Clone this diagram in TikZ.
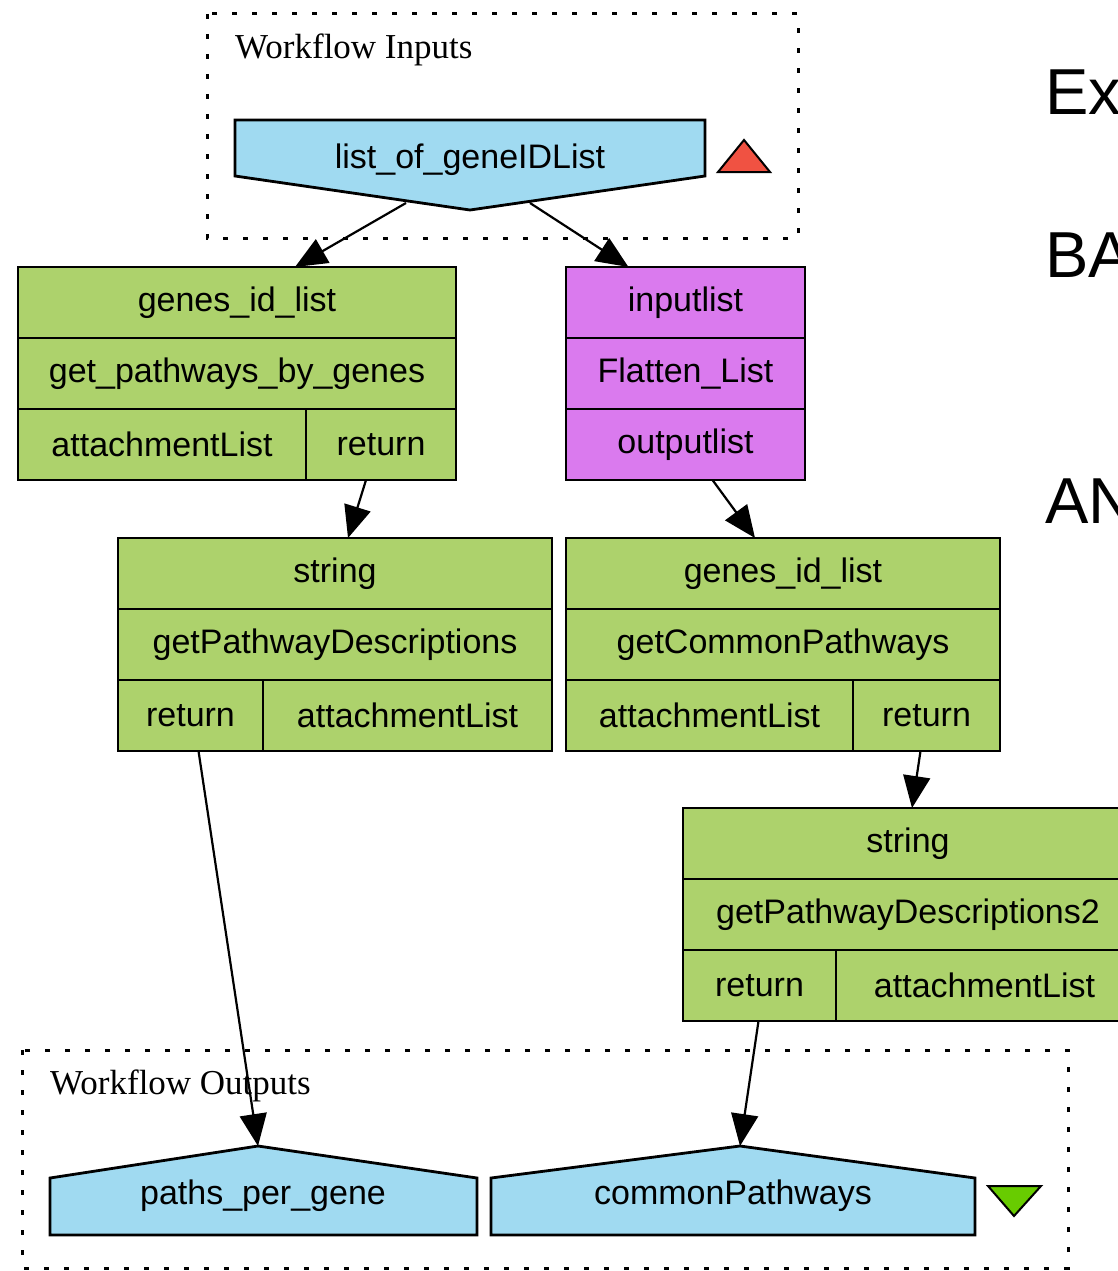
\documentclass[tikz,border=0pt]{standalone}
\usepackage{fontspec}
\setmainfont{Liberation Serif}
\setsansfont{Liberation Sans}
\usepackage{xcolor}
\usetikzlibrary{arrows.meta}
\definecolor{procgreen}{RGB}{173,210,108}
\definecolor{flatpurple}{RGB}{218,122,238}
\definecolor{portblue}{RGB}{160,218,241}
\definecolor{inred}{RGB}{240,82,66}
\definecolor{outgreen}{RGB}{104,204,0}
\newcommand{\lblfont}{\sffamily\fontsize{34}{40}\selectfont}
\newcommand{\grpfont}{\rmfamily\fontsize{35}{40}\selectfont}

\begin{document}
\begin{tikzpicture}[x=1pt, y=-1pt,
    cell/.style={draw=black, line width=2.8pt, inner sep=0pt, outer sep=0pt,
        anchor=north west, minimum height=71pt, font=\lblfont},
    proc/.style={cell, fill=procgreen},
    flat/.style={cell, fill=flatpurple},
    port/.style={draw=black, line width=2.8pt, fill=portblue, line join=miter},
    flow/.style={line width=2.2pt, -{Triangle[length=32pt, width=27pt]}},
    grp/.style={line width=3pt, dash pattern=on 5pt off 15pt},
    grptitle/.style={anchor=base west, inner sep=0pt, font=\grpfont}]
\useasboundingbox (0,0) rectangle (1118,1271);
\clip (0,0) rectangle (1118,1271);

% Workflow inputs
\draw[grp] (207,14) rectangle (798,238);
\node[grptitle] (intitle) at (235,59) {Workflow Inputs};
\draw[port] (235,120) -- (705,120) -- (705,176) -- (470,210) -- (235,176) -- cycle;
\node[font=\lblfont, inner sep=0pt] (geneIDList) at (470,160) {list\_of\_geneIDList};
\coordinate (geneIDList_a) at (406,203);
\coordinate (geneIDList_b) at (530,203);
\draw[line width=2pt, fill=inred] (718,172) -- (770,172) -- (744,140) -- cycle;

% get_pathways_by_genes
\node[proc, minimum width=438pt] (gpg_in) at (18,267) {genes\_id\_list};
\node[proc, minimum width=438pt] (gpg) at (gpg_in.south west) {get\_pathways\_by\_genes};
\node[proc, minimum width=288pt] (gpg_att) at (gpg.south west) {attachmentList};
\node[proc, minimum width=150pt] (gpg_ret) at (gpg_att.north east) {return};

% Flatten_List
\node[flat, minimum width=239pt] (fl_in) at (566,267) {inputlist};
\node[flat, minimum width=239pt] (fl) at (fl_in.south west) {Flatten\_List};
\node[flat, minimum width=239pt] (fl_out) at (fl.south west) {outputlist};

% getPathwayDescriptions
\node[proc, minimum width=434pt] (gpd_in) at (118,538) {string};
\node[proc, minimum width=434pt] (gpd) at (gpd_in.south west) {getPathwayDescriptions};
\node[proc, minimum width=145pt] (gpd_ret) at (gpd.south west) {return};
\node[proc, minimum width=289pt] (gpd_att) at (gpd_ret.north east) {attachmentList};

% getCommonPathways
\node[proc, minimum width=434pt] (gcp_in) at (566,538) {genes\_id\_list};
\node[proc, minimum width=434pt] (gcp) at (gcp_in.south west) {getCommonPathways};
\node[proc, minimum width=287pt] (gcp_att) at (gcp.south west) {attachmentList};
\node[proc, minimum width=147pt] (gcp_ret) at (gcp_att.north east) {return};

% getPathwayDescriptions2
\node[proc, minimum width=450pt] (gpd2_in) at (683,808) {string};
\node[proc, minimum width=450pt] (gpd2) at (gpd2_in.south west) {getPathwayDescriptions2};
\node[proc, minimum width=153pt] (gpd2_ret) at (gpd2.south west) {return};
\node[proc, minimum width=297pt] (gpd2_att) at (gpd2_ret.north east) {attachmentList};

% Workflow outputs
\draw[grp] (22,1050) rectangle (1068,1268);
\node[grptitle] (outtitle) at (50,1094) {Workflow Outputs};
\draw[port] (50,1178) -- (258,1146) -- (477,1178) -- (477,1235) -- (50,1235) -- cycle;
\coordinate (paths_top) at (258,1146);
\node[font=\lblfont, inner sep=0pt] (paths) at (263,1196) {paths\_per\_gene};
\draw[port] (491,1178) -- (740,1146) -- (975,1178) -- (975,1235) -- (491,1235) -- cycle;
\coordinate (common_top) at (740,1146);
\node[font=\lblfont, inner sep=0pt] (common) at (733,1196) {commonPathways};
\draw[line width=2pt, fill=outgreen] (988,1186) -- (1041,1186) -- (1014,1216) -- cycle;

% links
\draw[flow] (geneIDList_a) -- ([xshift=58pt]gpg_in.north);
\draw[flow] (geneIDList_b) -- ([xshift=-57pt]fl_in.north);
\draw[flow] ([xshift=-15pt]gpg_ret.south) -- ([xshift=13pt]gpd_in.north);
\draw[flow] ([xshift=27pt]fl_out.south) -- ([xshift=-28pt]gcp_in.north);
\draw[flow] ([xshift=8pt]gpd_ret.south) -- (paths_top);
\draw[flow] ([xshift=-6pt]gcp_ret.south) -- ([xshift=4pt]gpd2_in.north);
\draw[flow] ([xshift=-1pt]gpd2_ret.south) -- (common_top);

% cut-off text on the right
\node[anchor=base west, inner sep=0pt, font=\sffamily\fontsize{65}{70}\selectfont] (ex) at (1045,115) {Ex};
\node[anchor=base west, inner sep=0pt, font=\sffamily\fontsize{65}{70}\selectfont] (ba) at (1045,277) {BA};
\node[anchor=base west, inner sep=0pt, font=\sffamily\fontsize{65}{70}\selectfont] (an) at (1045,523) {AN};
\end{tikzpicture}
\end{document}
